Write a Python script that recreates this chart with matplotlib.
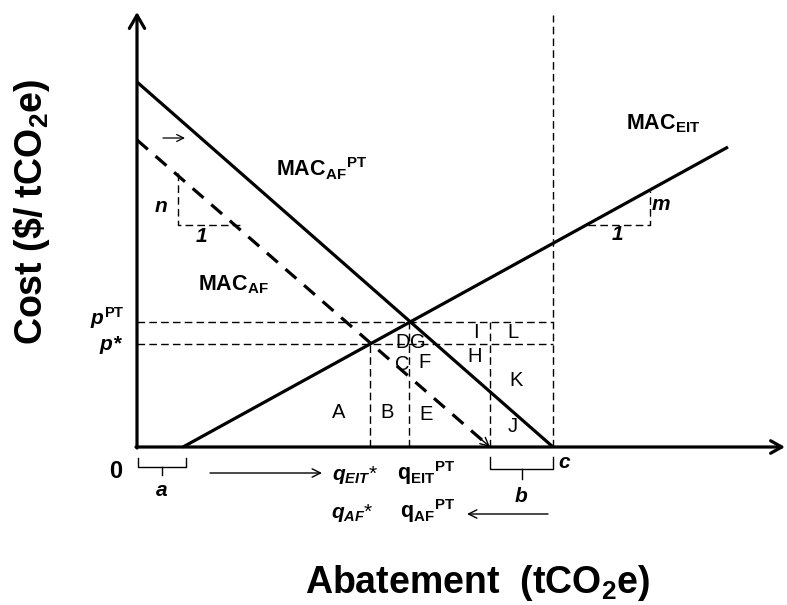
import matplotlib
matplotlib.use('Agg')
import matplotlib.pyplot as plt

plt.rcParams['font.family'] = ['Liberation Sans', 'DejaVu Sans']
plt.rcParams['mathtext.fontset'] = 'custom'
plt.rcParams['mathtext.rm'] = 'Liberation Sans:bold'
plt.rcParams['mathtext.it'] = 'Liberation Sans:italic:bold'
plt.rcParams['mathtext.bf'] = 'Liberation Sans:bold'

# ---------------- data (schematic units) ----------------
mac_af_pt_x = [0, 416]          # MAC_AF^PT (solid)
mac_af_pt_y = [365, 0]
mac_af_x = [0, 353]             # MAC_AF (dashed)
mac_af_y = [307, 0]
mac_eit_x = [46, 591]           # MAC_EIT
mac_eit_y = [0, 300]
p_pt = 125
p_star = 103
q_eit_star = 233
q_eit_pt = 272
q_af_zero = 353
c_full = 416
a_end = 46
top_line = 432
x_max = 648
y_max = 435
n_tri_x = [41, 41, 103]
n_tri_y = [274, 222, 222]
m_tri_x = [451, 513, 513]
m_tri_y = [222, 222, 256]
region_letters = ['A', 'B', 'C', 'D', 'E', 'F', 'G', 'H', 'I', 'J', 'K', 'L']

# ---------------- figure ----------------
fig = plt.figure(figsize=(7.87, 6.05), dpi=100)
ax = fig.add_axes([0, 0, 1, 1])
ax.set_xlim(-137, 650)
ax.set_ylim(-158, 447)
ax.axis('off')

K = 'black'
thin = dict(color=K, lw=1.0, linestyle=(0, (5.5, 3)))

# axes with arrows
ax.annotate('', xy=(0, y_max), xytext=(0, -1),
            arrowprops=dict(arrowstyle='->,head_length=0.95,head_width=0.55',
                            lw=2.3, color=K, shrinkA=0, shrinkB=0))
ax.annotate('', xy=(x_max, 0), xytext=(-1, 0),
            arrowprops=dict(arrowstyle='->,head_length=0.8,head_width=0.45',
                            lw=2.3, color=K, shrinkA=0, shrinkB=0))

# curves
ax.plot(mac_af_pt_x, mac_af_pt_y, color=K, lw=2.3, solid_capstyle='butt')
ax.plot(mac_eit_x, mac_eit_y, color=K, lw=2.3, solid_capstyle='butt')
ax.plot(mac_af_x, mac_af_y, color=K, lw=2.3, linestyle=(0, (4.5, 3.2)))
ax.annotate('', xy=(mac_af_x[1], mac_af_y[1]),
            xytext=(mac_af_x[1] - 10, mac_af_y[1] + 8.7),
            arrowprops=dict(arrowstyle='->,head_length=0.6,head_width=0.3',
                            lw=1.0, color=K, shrinkA=0, shrinkB=0))

# guide lines
ax.plot([0, c_full], [p_pt, p_pt], **thin)
ax.plot([0, c_full], [p_star, p_star], **thin)
ax.plot([q_eit_star, q_eit_star], [0, p_star], **thin)
ax.plot([q_eit_pt, q_eit_pt], [0, p_pt], **thin)
ax.plot([q_af_zero, q_af_zero], [0, p_pt], **thin)
ax.plot([c_full, c_full], [0, top_line], **thin)

# slope triangles
ax.plot(n_tri_x, n_tri_y, **thin)
ax.plot(m_tri_x, m_tri_y, **thin)

# small shift arrow
ax.annotate('', xy=(48, 309), xytext=(26, 309),
            arrowprops=dict(arrowstyle='->,head_length=0.5,head_width=0.25',
                            lw=0.9, color=K, shrinkA=0, shrinkB=0))

# region letters
region_pos = {'A': (202, 34), 'B': (250, 34), 'E': (289, 32), 'C': (265, 82),
              'F': (288, 84), 'D': (266, 105), 'G': (281, 105), 'H': (338, 91),
              'I': (339, 115), 'L': (376, 115), 'K': (379, 67), 'J': (376, 20)}
for L in region_letters:
    x, y = region_pos[L]
    ax.text(x, y, L, fontsize=14.5, ha='center', va='center', color=K)

bi = dict(fontsize=15, fontweight='bold', fontstyle='italic', color=K)
bo = dict(fontsize=15.5, fontweight='bold', color=K)

# curve labels
ax.text(139, 271, r'MAC$_{\mathrm{AF}}$$^{\mathrm{PT}}$', ha='left', va='baseline', **bo)
ax.text(61, 157, r'MAC$_{\mathrm{AF}}$', ha='left', va='baseline', **bo)
ax.text(489, 318, r'MAC$_{\mathrm{EIT}}$', ha='left', va='baseline', **bo)

# slope labels
ax.text(24, 241, 'n', ha='center', va='center', **bi)
ax.text(64, 211, '1', ha='center', va='center', **bi)
ax.text(524, 242, 'm', ha='center', va='center', **bi)
ax.text(480, 212, '1', ha='center', va='center', **bi)

# price labels
ax.text(-12, 129, r'$p^{\mathrm{PT}}$', ha='right', va='center', fontsize=15, color=K)
ax.text(-14, 102, r'$p$*', ha='right', va='center', **bi)
ax.text(-21, -24, '0', ha='center', va='center', fontsize=17, fontweight='bold', color=K)

# quantity labels
ax.text(195, -33, r'$q_{EIT}$*', ha='left', va='baseline', fontsize=15, color=K)
ax.text(260, -33, r'q$_{\mathrm{EIT}}$$^{\mathrm{PT}}$', ha='left', va='baseline', **bo)
ax.text(194, -71, r'$q_{AF}$*', ha='left', va='baseline', fontsize=15, color=K)
ax.text(263, -71, r'q$_{\mathrm{AF}}$$^{\mathrm{PT}}$', ha='left', va='baseline', **bo)

# horizontal arrows
ax.annotate('', xy=(185, -26), xytext=(73, -26),
            arrowprops=dict(arrowstyle='->,head_length=0.6,head_width=0.3',
                            lw=1.0, color=K, shrinkA=0, shrinkB=0))
ax.annotate('', xy=(330, -67), xytext=(411, -67),
            arrowprops=dict(arrowstyle='->,head_length=0.6,head_width=0.3',
                            lw=1.0, color=K, shrinkA=0, shrinkB=0))

# braces
def brace(x0, x1, ytop, yh, ymid):
    xm = (x0 + x1) / 2
    ax.plot([x0, x0, x1, x1], [ytop, yh, yh, ytop], color=K, lw=1.0)
    ax.plot([xm, xm], [yh, ymid], color=K, lw=1.0)

brace(1, a_end + 3, -11, -20, -28)
brace(q_af_zero, c_full, -10, -22, -32)
ax.text(25, -44, 'a', ha='center', va='center', **bi)
ax.text(384, -49, 'b', ha='center', va='center', **bi)
ax.text(427, -16, 'c', ha='center', va='center', **bi)

# axis titles
ax.text(341, -136, r'Abatement  (tCO$_{\mathrm{2}}$e)', ha='center', va='center',
        fontsize=27, fontweight='bold', color=K)
ax.text(-105, 235, r'Cost ($\$$/ tCO$_{\mathrm{2}}$e)', ha='center', va='center',
        rotation=90, fontsize=27, fontweight='bold', color=K)

fig.savefig('out.png', dpi=100)
